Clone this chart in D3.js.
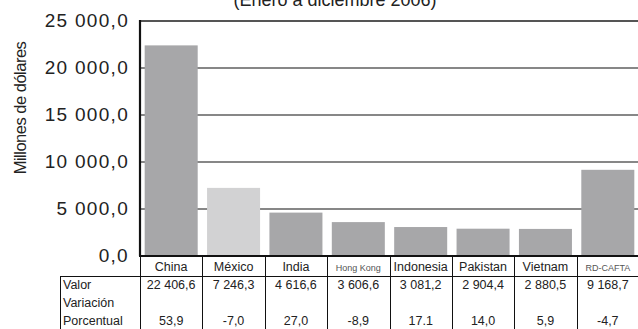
<!DOCTYPE html>
<html><head><meta charset="utf-8">
<script src="https://cdn.jsdelivr.net/npm/d3@7"></script>
<style>body{margin:0;background:#fff}svg{display:block;font-family:"Liberation Sans",Arial,sans-serif}</style>
</head><body><svg id="c" width="638" height="329"></svg>
<script>
const categories = ["China","México","India","Hong Kong","Indonesia","Pakistan","Vietnam","RD-CAFTA"];
const values = [22406.6,7246.3,4616.6,3606.6,3081.2,2904.4,2880.5,9168.7];
const valueLabels = ["22 406,6","7 246,3","4 616,6","3 606,6","3 081,2","2 904,4","2 880,5","9 168,7"];
const variation = ["53,9","-7,0","27,0","-8,9","17.1","14,0","5,9","-4,7"];
const yTicks = [0,5000,10000,15000,20000,25000];
const tickLabels = ["0,0","5 000,0","10 000,0","15 000,0","20 000,0","25 000,0"];
const smallCats = ["Hong Kong","RD-CAFTA"];
const highlight = "México";

const svg = d3.select("#c");
const x = d3.scaleBand().domain(categories).range([140,639]).paddingInner(0.15).paddingOuter(0.075);
const y = d3.scaleLinear().domain([0,25000]).range([256,21]);
const step = x.step();

// title (cut off at top as in the reference)
svg.append("text").attr("x",335).attr("y",6).attr("text-anchor","middle")
  .attr("font-size",18).attr("fill","#222").text("(Enero a diciembre 2006)");

// gridlines
svg.selectAll(".g").data(yTicks.filter(d=>d>0&&d<25000)).join("line")
  .attr("x1",140).attr("x2",638).attr("y1",d=>y(d)).attr("y2",d=>y(d))
  .attr("stroke","#111").attr("stroke-width",1.2);
svg.append("line").attr("x1",140).attr("x2",638).attr("y1",y(25000)).attr("y2",y(25000))
  .attr("stroke","#555").attr("stroke-width",2);

// bars
svg.selectAll(".b").data(categories).join("rect")
  .attr("x",d=>x(d)).attr("width",x.bandwidth())
  .attr("y",(d,i)=>y(values[i])).attr("height",(d,i)=>y(0)-y(values[i]))
  .attr("fill",d=>d===highlight?"#d2d2d3":"#a7a7a9");

// axes lines
svg.append("line").attr("x1",140).attr("x2",140).attr("y1",20).attr("y2",256).attr("stroke","#111").attr("stroke-width",2.2);
svg.append("line").attr("x1",139).attr("x2",638).attr("y1",256).attr("y2",256).attr("stroke","#111").attr("stroke-width",2.2);

// y tick labels
svg.selectAll(".t").data(yTicks).join("text")
  .attr("x",129).attr("y",d=>y(d)+6).attr("text-anchor","end")
  .attr("font-size",19).attr("letter-spacing",1.3).attr("fill","#222")
  .text((d,i)=>tickLabels[i]);

// y label
svg.append("text").attr("transform","translate(26,108) rotate(-90)")
  .attr("text-anchor","middle").attr("font-size",16.5).attr("letter-spacing",-0.5).attr("fill","#222").text("Millones de dólares");

// table
const tb = svg.append("g");
tb.append("line").attr("x1",60).attr("x2",638).attr("y1",276.5).attr("y2",276.5).attr("stroke","#111").attr("stroke-width",1);
tb.append("line").attr("x1",60.5).attr("x2",60.5).attr("y1",276).attr("y2",329).attr("stroke","#111").attr("stroke-width",1);
tb.selectAll(".v").data(d3.range(categories.length+1)).join("line")
  .attr("x1",i=>Math.round(140+i*step)+0.5).attr("x2",i=>Math.round(140+i*step)+0.5)
  .attr("y1",256).attr("y2",329).attr("stroke","#111").attr("stroke-width",1);

tb.selectAll(".c").data(categories).join("text")
  .attr("x",d=>140+categories.indexOf(d)*step+step/2).attr("y",271)
  .attr("text-anchor","middle")
  .attr("font-size",d=>smallCats.includes(d)?9:12.5)
  .attr("fill",d=>smallCats.includes(d)?"#555":"#222")
  .text(d=>d);

tb.selectAll(".vl").data(valueLabels).join("text")
  .attr("x",(d,i)=>140+i*step+step/2).attr("y",289).attr("text-anchor","middle")
  .attr("font-size",12.5).attr("fill","#222").text(d=>d);
tb.selectAll(".pv").data(variation).join("text")
  .attr("x",(d,i)=>140+i*step+step/2).attr("y",325).attr("text-anchor","middle")
  .attr("font-size",12.5).attr("fill","#222").text(d=>d);

[["Valor",289],["Variación",307],["Porcentual",325]].forEach(([t,yy])=>{
  tb.append("text").attr("x",63).attr("y",yy).attr("font-size",12.5).attr("fill","#222").text(t);
});
</script></body></html>
